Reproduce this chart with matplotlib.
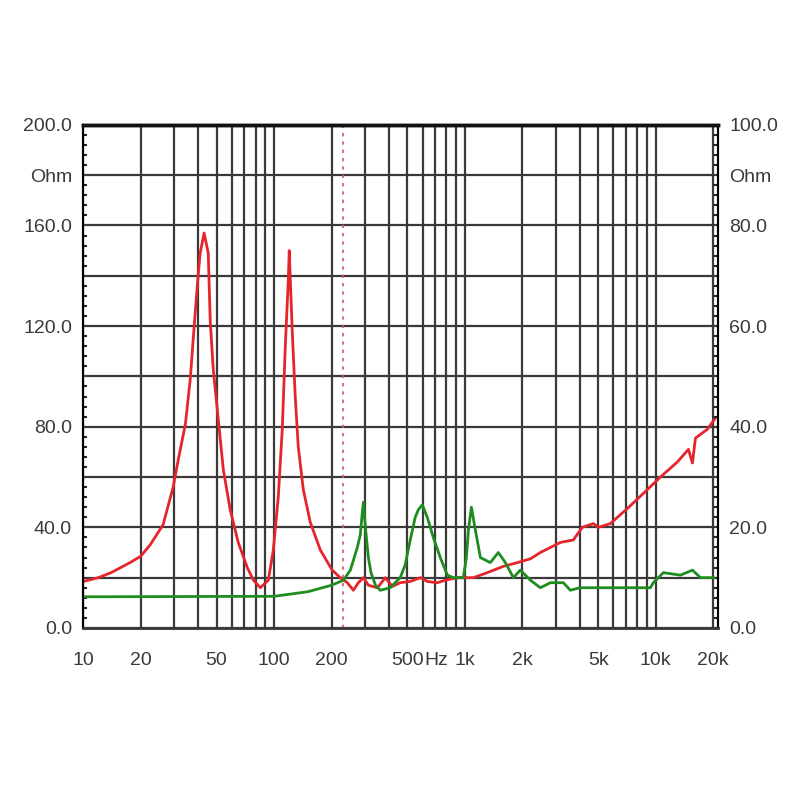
import numpy as np
import matplotlib.pyplot as plt
import matplotlib.transforms as mtransforms

plt.rcParams.update({
    'font.family': ['Liberation Sans', 'DejaVu Sans'],
    'font.size': 14,
})

# red curve, left axis (Ohm 0..200)
red_freq = [10, 12, 14, 17.6, 20, 22.4, 26.2, 29.6, 31.5, 34.3, 36.4, 37.8, 39.6, 41,
            43, 45.2, 46.3, 48, 51, 54.2, 58.9, 64.9, 72.4, 78, 84.7, 93.3, 99.1,
            105.2, 110.4, 114.5, 118.7, 120.1, 124.5, 129.1, 133.9, 142.3, 154.8,
            174.7, 201.7, 222.2, 241.9, 260.3, 276.3, 294, 312, 348, 383, 416, 458,
            517, 584, 635, 716, 789, 912, 1107, 1310, 1589, 1884, 2203, 2484, 3162,
            3698, 4121, 4710, 5000, 5781, 7097, 8610, 10570, 12980, 14830, 15560,
            16140, 18650, 20550]
red_ohm = [18.5, 20, 22, 26, 28.5, 33, 41, 56, 67, 81, 99, 116, 136, 149,
           157, 149, 122, 103, 83, 63, 47, 34, 24, 19, 16, 19, 31,
           52, 79, 112, 138, 150, 118, 92, 72, 55, 42,
           31, 23, 20, 18, 15, 18, 20, 17, 16, 20, 16.5, 18,
           18.5, 20, 18.5, 18, 19, 20, 20, 22, 24.5, 26, 27.5, 30, 34,
           35, 40, 41.5, 40, 41.5, 47.5, 53.5, 60, 66, 71, 65.6,
           75.5, 79, 83.5]

# green curve, right axis (Ohm 0..100)
green_freq = [10, 100, 150, 200, 231, 251, 273, 283, 290, 294, 301, 312, 322, 340,
              360, 406, 458, 486, 517, 549, 570, 598, 635, 683, 743, 809, 869, 981,
              1018, 1043, 1081, 1134, 1205, 1358, 1496, 1629, 1794, 1950, 2203,
              2484, 2805, 3281, 3566, 4000, 9370, 9710, 10960, 13460, 15560, 17150,
              20000]
green_ohm = [6.2, 6.3, 7.2, 8.5, 9.5, 11.5, 16, 18.5, 23, 25, 20, 14, 11, 8.5,
             7.5, 8, 10, 12.5, 17.5, 22, 23.5, 24.5, 22, 18, 14, 10.5, 10, 10,
             14, 19.5, 24, 19.5, 14, 13, 15, 13, 10, 11.5, 9.5,
             8, 9, 9, 7.5, 8, 8, 9, 11, 10.5, 11.5, 10,
             10]

marker_freq = 231
x_labels = {10: '10', 20: '20', 50: '50', 100: '100', 200: '200', 500: '500',
            1000: '1k', 2000: '2k', 5000: '5k', 10000: '10k', 20000: '20k'}
left_labels = ['0.0', '', '40.0', '', '80.0', '', '120.0', '', '160.0', 'Ohm', '200.0']
right_labels = ['0.0', '', '20.0', '', '40.0', '', '60.0', '', '80.0', 'Ohm', '100.0']

grid_col = '#3a3a3a'
text_col = '#3a3a3a'
xpad = 17.5

fig = plt.figure(figsize=(8, 8), dpi=100)
ax = fig.add_axes([0.104, 0.215, 0.7936, 0.629])
ax2 = ax.twinx()

ax.set_xscale('log')
ax.set_xlim(10, 21200)
ax.set_ylim(0, 200)
ax2.set_ylim(0, 100)

# grid lines at every 1..9 x decade
grid_x = [m * 10 ** d for d in range(1, 5) for m in range(1, 10) if m * 10 ** d <= 20000]
ax.set_xticks(grid_x)
ax.set_xticklabels([x_labels.get(v, '') for v in grid_x], color=text_col)
ax.xaxis.set_minor_locator(plt.NullLocator())
ax.tick_params(axis='x', length=0, pad=xpad)
ax.grid(True, axis='x', color=grid_col, lw=1.6)

ax.set_yticks(np.arange(0, 201, 20))
ax.set_yticklabels(left_labels, color=text_col)
ax.grid(True, axis='y', color=grid_col, lw=1.6)
ax.tick_params(axis='y', length=0, pad=8)
ax.set_yticks(np.arange(0, 201, 4), minor=True)
ax.tick_params(axis='y', which='minor', length=3, width=1.5, direction='in', color='#222222')

ax2.set_yticks(np.arange(0, 101, 10))
ax2.set_yticklabels(right_labels, color=text_col)
ax2.tick_params(axis='y', length=0, pad=8)
ax2.set_yticks(np.arange(0, 101, 2), minor=True)
ax2.tick_params(axis='y', which='minor', length=3, width=1.5, direction='in', color='#222222')

trans = mtransforms.blended_transform_factory(ax.transData, ax.transAxes)
trans = mtransforms.offset_copy(trans, fig=fig, y=-xpad, units='points')
ax.text(710, 0, 'Hz', transform=trans, ha='center', va='top',
        color=text_col, fontsize=14)

ax.axvline(marker_freq, color='#e0506a', lw=1.2, ls=(0, (2, 3)))

ax.plot(red_freq, red_ohm, color='#e5242c', lw=2.0)
ax2.plot(green_freq, green_ohm, color='#1e8c1e', lw=2.0)

for a in (ax, ax2):
    a.spines['top'].set_linewidth(2.5)
    a.spines['top'].set_color('#111111')
    a.spines['left'].set_linewidth(1.5)
    a.spines['right'].set_linewidth(1.5)
    a.spines['bottom'].set_linewidth(1.8)
    a.spines['bottom'].set_color(grid_col)

plt.savefig('out.png', dpi=100)
